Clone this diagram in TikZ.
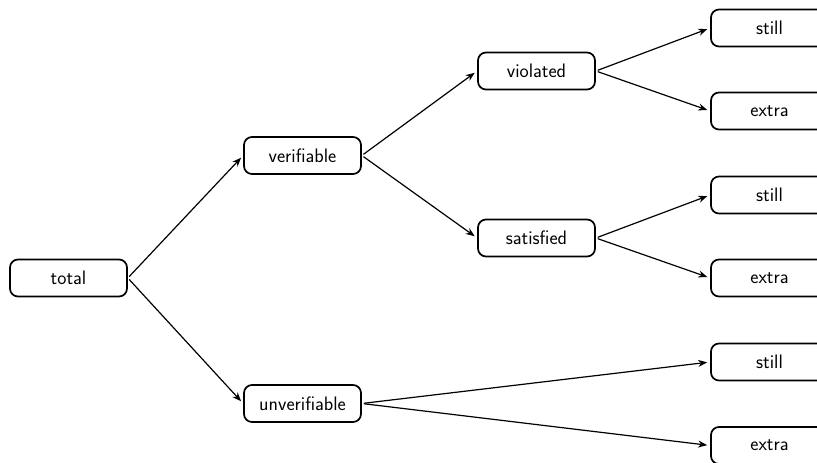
\documentclass[tikz,border=0pt]{standalone}
\usetikzlibrary{arrows.meta}
\begin{document}
\begin{tikzpicture}[x=1pt,y=-1pt,
  box/.style={draw,line width=1.7pt,rounded corners=8pt,minimum width=117pt,minimum height=37pt,inner sep=0pt,font=\sffamily\fontsize{19.5}{22}\selectfont},
  conn/.style={-{Stealth[length=9pt,width=7pt]},line width=1.2pt,shorten >=3pt,shorten <=2pt}]
\useasboundingbox (0,0) rectangle (817,463);
\node[box] (total) at (68.5,278) {total};
\node[box] (ver) at (302.5,155.5) {verifiable};
\node[box] (unver) at (302.5,403.5) {unverifiable};
\node[box] (viol) at (536.5,71) {violated};
\node[box] (sat) at (536.5,238) {satisfied};
\node[box] (s1) at (769.5,28) {still};
\node[box] (e1) at (769.5,111) {extra};
\node[box] (s2) at (769.5,195) {still};
\node[box] (e2) at (769.5,278) {extra};
\node[box] (s3) at (769.5,362) {still};
\node[box] (e3) at (769.5,445.5) {extra};
\draw[conn] (total.east) -- (ver.west);
\draw[conn] (total.east) -- (unver.west);
\draw[conn] (ver.east) -- (viol.west);
\draw[conn] (ver.east) -- (sat.west);
\draw[conn] (viol.east) -- (s1.west);
\draw[conn] (viol.east) -- (e1.west);
\draw[conn] (sat.east) -- (s2.west);
\draw[conn] (sat.east) -- (e2.west);
\draw[conn] (unver.east) -- (s3.west);
\draw[conn] (unver.east) -- (e3.west);
\end{tikzpicture}
\end{document}
